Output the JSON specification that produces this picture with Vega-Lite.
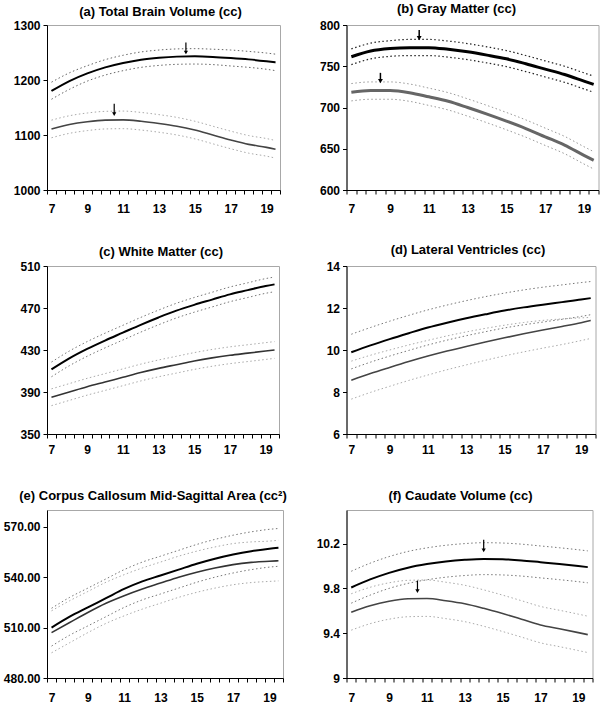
{
  "$schema": "https://vega.github.io/schema/vega-lite/v6.json",
  "background": "white",
  "padding": {"left": 2, "top": 2, "right": 0, "bottom": 0},
  "config": {
    "font": "Liberation Sans, Arial, sans-serif",
    "view": {"stroke": "#a8a8a8", "strokeWidth": 1},
    "axis": {"grid": false, "domainColor": "#000", "tickColor": "#000", "labelColor": "#000", "labelFontSize": 12, "labelFontWeight": "bold", "labelFont": "Liberation Sans, Arial, sans-serif", "tickSize": 4, "labelFlush": false, "labelOverlap": false, "title": null},
    "axisX": {"labelPadding": 9.5},
    "axisY": {"labelPadding": 3},
    "title": {"fontSize": 13, "fontWeight": "bold", "font": "Liberation Sans, Arial, sans-serif", "color": "#000", "anchor": "middle"}
  },
  "columns": 2,
  "align": "each",
  "bounds": "flush",
  "spacing": {"row": 76, "column": 63.5},
  "concat": [
    {
      "width": 233, "height": 165,
      "title": {"text": "(a) Total Brain Volume (cc)", "offset": 0, "dx": -3},
      "data": {"values": [
        {"age": 7, "M": 1180, "Mh": 1196, "Ml": 1165, "F": 1111, "Fh": 1127, "Fl": 1095},
        {"age": 8, "M": 1198, "Mh": 1213, "Ml": 1183, "F": 1119, "Fh": 1135, "Fl": 1103},
        {"age": 9, "M": 1212, "Mh": 1226, "Ml": 1198, "F": 1124, "Fh": 1140, "Fl": 1108},
        {"age": 10, "M": 1223, "Mh": 1237, "Ml": 1209, "F": 1127, "Fh": 1143, "Fl": 1111},
        {"age": 11, "M": 1231, "Mh": 1245, "Ml": 1217, "F": 1127.5, "Fh": 1143.5, "Fl": 1111.5},
        {"age": 12, "M": 1237, "Mh": 1251, "Ml": 1223, "F": 1125, "Fh": 1141, "Fl": 1109},
        {"age": 13, "M": 1240.5, "Mh": 1254.5, "Ml": 1226.5, "F": 1121, "Fh": 1137, "Fl": 1105},
        {"age": 14, "M": 1242.5, "Mh": 1256.5, "Ml": 1228.5, "F": 1116, "Fh": 1132, "Fl": 1100},
        {"age": 15, "M": 1243, "Mh": 1257, "Ml": 1229, "F": 1109, "Fh": 1125, "Fl": 1093},
        {"age": 16, "M": 1242, "Mh": 1256, "Ml": 1228, "F": 1100, "Fh": 1116, "Fl": 1084},
        {"age": 17, "M": 1240, "Mh": 1254.5, "Ml": 1225.5, "F": 1091, "Fh": 1107, "Fl": 1075},
        {"age": 18, "M": 1237.5, "Mh": 1252, "Ml": 1223, "F": 1083, "Fh": 1099, "Fl": 1067},
        {"age": 19, "M": 1234, "Mh": 1249, "Ml": 1219.5, "F": 1077.5, "Fh": 1093.5, "Fl": 1061.5},
        {"age": 19.5, "M": 1232, "Mh": 1247, "Ml": 1217, "F": 1074, "Fh": 1090, "Fl": 1058}
      ]},
      "encoding": {"x": {"field": "age", "type": "quantitative", "scale": {"domain": [6.75, 19.75], "nice": false, "zero": false}, "axis": {"values": [6.75,7.25,7.75,8.25,8.75,9.25,9.75,10.25,10.75,11.25,11.75,12.25,12.75,13.25,13.75,14.25,14.75,15.25,15.75,16.25,16.75,17.25,17.75,18.25,18.75,19.25,19.75], "labelExpr": "(datum.value + 0.25) % 2 == 1 ? '' + (datum.value + 0.25) : ''", "labelOffset": 4.48}}},
      "layer": [
        {"mark": {"type": "line", "interpolate": "monotone", "color": "#aaa", "strokeWidth": 1, "strokeDash": [1.5, 2.5]}, "encoding": {"y": {"field": "Fh", "type": "quantitative", "scale": {"domain": [1000, 1300], "nice": false, "zero": false}, "axis": {"values": [1000, 1100, 1200, 1300], "labelExpr": "'' + datum.value"}}}},
        {"mark": {"type": "line", "interpolate": "monotone", "color": "#aaa", "strokeWidth": 1, "strokeDash": [1.5, 2.5]}, "encoding": {"y": {"field": "Fl", "type": "quantitative"}}},
        {"mark": {"type": "line", "interpolate": "monotone", "color": "#666", "strokeWidth": 1, "strokeDash": [1.5, 2.5]}, "encoding": {"y": {"field": "Mh", "type": "quantitative"}}},
        {"mark": {"type": "line", "interpolate": "monotone", "color": "#666", "strokeWidth": 1, "strokeDash": [1.5, 2.5]}, "encoding": {"y": {"field": "Ml", "type": "quantitative"}}},
        {"mark": {"type": "line", "interpolate": "monotone", "color": "#444", "strokeWidth": 1.6}, "encoding": {"y": {"field": "F", "type": "quantitative"}}},
        {"mark": {"type": "line", "interpolate": "monotone", "color": "#000", "strokeWidth": 2}, "encoding": {"y": {"field": "M", "type": "quantitative"}}},
        {"data": {"values": [{"age": 14.5, "a1": 1268, "a2": 1250}, {"age": 10.5, "a1": 1157, "a2": 1138}]}, "mark": {"type": "rule", "color": "#000", "strokeWidth": 1.2}, "encoding": {"y": {"field": "a1", "type": "quantitative"}, "y2": {"field": "a2"}}},
        {"data": {"values": [{"age": 14.5, "a2": 1250}, {"age": 10.5, "a2": 1138}]}, "mark": {"type": "point", "shape": "triangle-down", "filled": true, "color": "#000", "size": 18, "opacity": 1}, "encoding": {"y": {"field": "a2", "type": "quantitative"}}}
      ]
    },
    {
      "width": 252, "height": 165,
      "title": {"text": "(b) Gray Matter (cc)", "offset": 2.7, "dx": -16},
      "data": {"values": [
        {"age": 7, "M": 761.5, "Mh": 771, "Ml": 752, "F": 718.5, "Fh": 729, "Fl": 708},
        {"age": 8, "M": 768.5, "Mh": 778, "Ml": 759, "F": 720.5, "Fh": 731, "Fl": 710},
        {"age": 9, "M": 771.5, "Mh": 781, "Ml": 762, "F": 720.5, "Fh": 731, "Fl": 710},
        {"age": 10, "M": 772.5, "Mh": 782.5, "Ml": 763, "F": 718, "Fh": 728.5, "Fl": 707.5},
        {"age": 11, "M": 772.5, "Mh": 782.5, "Ml": 763, "F": 713, "Fh": 723.5, "Fl": 702.5},
        {"age": 12, "M": 770.5, "Mh": 780.5, "Ml": 761, "F": 707.5, "Fh": 718, "Fl": 697},
        {"age": 13, "M": 767.5, "Mh": 777.5, "Ml": 758, "F": 700, "Fh": 710.5, "Fl": 689.5},
        {"age": 14, "M": 763.5, "Mh": 773.5, "Ml": 754, "F": 692, "Fh": 702.5, "Fl": 681.5},
        {"age": 15, "M": 759, "Mh": 769, "Ml": 749.5, "F": 683.5, "Fh": 694, "Fl": 673},
        {"age": 16, "M": 753, "Mh": 763, "Ml": 743.5, "F": 674.5, "Fh": 685, "Fl": 664},
        {"age": 17, "M": 746.5, "Mh": 756.5, "Ml": 737, "F": 664.5, "Fh": 675, "Fl": 654},
        {"age": 18, "M": 740, "Mh": 750, "Ml": 730.5, "F": 654.5, "Fh": 665, "Fl": 644},
        {"age": 19, "M": 732, "Mh": 742, "Ml": 722.5, "F": 642, "Fh": 652.5, "Fl": 631.5},
        {"age": 19.5, "M": 728, "Mh": 738, "Ml": 718.5, "F": 636, "Fh": 646.5, "Fl": 625.5}
      ]},
      "encoding": {"x": {"field": "age", "type": "quantitative", "scale": {"domain": [6.75, 19.75], "nice": false, "zero": false}, "axis": {"values": [6.75,7.25,7.75,8.25,8.75,9.25,9.75,10.25,10.75,11.25,11.75,12.25,12.75,13.25,13.75,14.25,14.75,15.25,15.75,16.25,16.75,17.25,17.75,18.25,18.75,19.25,19.75], "labelExpr": "(datum.value + 0.25) % 2 == 1 ? '' + (datum.value + 0.25) : ''", "labelOffset": 4.85}}},
      "layer": [
        {"mark": {"type": "line", "interpolate": "monotone", "color": "#999", "strokeWidth": 1, "strokeDash": [1.5, 2.5]}, "encoding": {"y": {"field": "Fh", "type": "quantitative", "scale": {"domain": [600, 800], "nice": false, "zero": false}, "axis": {"values": [600, 650, 700, 750, 800], "labelExpr": "'' + datum.value"}}}},
        {"mark": {"type": "line", "interpolate": "monotone", "color": "#999", "strokeWidth": 1, "strokeDash": [1.5, 2.5]}, "encoding": {"y": {"field": "Fl", "type": "quantitative"}}},
        {"mark": {"type": "line", "interpolate": "monotone", "color": "#222", "strokeWidth": 1.2, "strokeDash": [1.5, 2.5]}, "encoding": {"y": {"field": "Mh", "type": "quantitative"}}},
        {"mark": {"type": "line", "interpolate": "monotone", "color": "#222", "strokeWidth": 1.2, "strokeDash": [1.5, 2.5]}, "encoding": {"y": {"field": "Ml", "type": "quantitative"}}},
        {"mark": {"type": "line", "interpolate": "monotone", "color": "#666", "strokeWidth": 3}, "encoding": {"y": {"field": "F", "type": "quantitative"}}},
        {"mark": {"type": "line", "interpolate": "monotone", "color": "#000", "strokeWidth": 3}, "encoding": {"y": {"field": "M", "type": "quantitative"}}},
        {"data": {"values": [{"age": 10.5, "a1": 794, "a2": 784}, {"age": 8.5, "a1": 742, "a2": 732}]}, "mark": {"type": "rule", "color": "#000", "strokeWidth": 1.5}, "encoding": {"y": {"field": "a1", "type": "quantitative"}, "y2": {"field": "a2"}}},
        {"data": {"values": [{"age": 10.5, "a2": 784}, {"age": 8.5, "a2": 732}]}, "mark": {"type": "point", "shape": "triangle-down", "filled": true, "color": "#000", "size": 24, "opacity": 1}, "encoding": {"y": {"field": "a2", "type": "quantitative"}}}
      ]
    },
    {
      "width": 232, "height": 168,
      "title": {"text": "(c) White Matter (cc)", "offset": 1, "dx": -2},
      "data": {"values": [
        {"age": 7, "M": 411.5, "Mh": 418.5, "Ml": 404.5, "F": 385, "Fh": 393, "Fl": 377},
        {"age": 8, "M": 422, "Mh": 429, "Ml": 415, "F": 390, "Fh": 398, "Fl": 382},
        {"age": 9, "M": 431, "Mh": 438, "Ml": 424, "F": 395, "Fh": 403, "Fl": 387},
        {"age": 10, "M": 439, "Mh": 446, "Ml": 432, "F": 399.5, "Fh": 407.5, "Fl": 391.5},
        {"age": 11, "M": 446.5, "Mh": 453.5, "Ml": 439.5, "F": 404, "Fh": 412, "Fl": 396},
        {"age": 12, "M": 454, "Mh": 461, "Ml": 447, "F": 408.5, "Fh": 416.5, "Fl": 400.5},
        {"age": 13, "M": 461, "Mh": 468, "Ml": 454, "F": 412.5, "Fh": 420.5, "Fl": 404.5},
        {"age": 14, "M": 467.5, "Mh": 474.5, "Ml": 460.5, "F": 416, "Fh": 424, "Fl": 408},
        {"age": 15, "M": 473, "Mh": 480, "Ml": 466, "F": 419.5, "Fh": 427.5, "Fl": 411.5},
        {"age": 16, "M": 478, "Mh": 485, "Ml": 471, "F": 422.5, "Fh": 430.5, "Fl": 414.5},
        {"age": 17, "M": 483, "Mh": 490, "Ml": 476, "F": 425, "Fh": 433, "Fl": 417},
        {"age": 18, "M": 487, "Mh": 494, "Ml": 480, "F": 427, "Fh": 435, "Fl": 419},
        {"age": 19, "M": 491, "Mh": 498, "Ml": 484, "F": 429, "Fh": 437, "Fl": 421},
        {"age": 19.5, "M": 492.5, "Mh": 499.5, "Ml": 485.5, "F": 430, "Fh": 438, "Fl": 422}
      ]},
      "encoding": {"x": {"field": "age", "type": "quantitative", "scale": {"domain": [6.75, 19.75], "nice": false, "zero": false}, "axis": {"values": [6.75,7.25,7.75,8.25,8.75,9.25,9.75,10.25,10.75,11.25,11.75,12.25,12.75,13.25,13.75,14.25,14.75,15.25,15.75,16.25,16.75,17.25,17.75,18.25,18.75,19.25,19.75], "labelExpr": "(datum.value + 0.25) % 2 == 1 ? '' + (datum.value + 0.25) : ''", "labelOffset": 4.46, "labelPadding": 6.5}}},
      "layer": [
        {"mark": {"type": "line", "interpolate": "monotone", "color": "#aaa", "strokeWidth": 1, "strokeDash": [1.5, 2.5]}, "encoding": {"y": {"field": "Fh", "type": "quantitative", "scale": {"domain": [350, 510], "nice": false, "zero": false}, "axis": {"values": [350, 390, 430, 470, 510], "labelExpr": "'' + datum.value"}}}},
        {"mark": {"type": "line", "interpolate": "monotone", "color": "#aaa", "strokeWidth": 1, "strokeDash": [1.5, 2.5]}, "encoding": {"y": {"field": "Fl", "type": "quantitative"}}},
        {"mark": {"type": "line", "interpolate": "monotone", "color": "#777", "strokeWidth": 1, "strokeDash": [1.5, 2.5]}, "encoding": {"y": {"field": "Mh", "type": "quantitative"}}},
        {"mark": {"type": "line", "interpolate": "monotone", "color": "#777", "strokeWidth": 1, "strokeDash": [1.5, 2.5]}, "encoding": {"y": {"field": "Ml", "type": "quantitative"}}},
        {"mark": {"type": "line", "interpolate": "monotone", "color": "#333", "strokeWidth": 1.6}, "encoding": {"y": {"field": "F", "type": "quantitative"}}},
        {"mark": {"type": "line", "interpolate": "monotone", "color": "#000", "strokeWidth": 2}, "encoding": {"y": {"field": "M", "type": "quantitative"}}}
      ]
    },
    {
      "width": 249, "height": 168,
      "title": {"text": "(d) Lateral Ventricles (cc)", "offset": 3, "dx": -3},
      "data": {"values": [
        {"age": 7, "M": 9.89, "Mh": 10.75, "Ml": 9.1, "F": 8.56, "Fh": 9.47, "Fl": 7.66},
        {"age": 8, "M": 10.22, "Mh": 11.07, "Ml": 9.42, "F": 8.88, "Fh": 9.75, "Fl": 7.98},
        {"age": 9, "M": 10.52, "Mh": 11.37, "Ml": 9.71, "F": 9.17, "Fh": 10.0, "Fl": 8.27},
        {"age": 10, "M": 10.8, "Mh": 11.65, "Ml": 9.98, "F": 9.45, "Fh": 10.24, "Fl": 8.55},
        {"age": 11, "M": 11.07, "Mh": 11.91, "Ml": 10.24, "F": 9.71, "Fh": 10.46, "Fl": 8.81},
        {"age": 12, "M": 11.3, "Mh": 12.14, "Ml": 10.47, "F": 9.95, "Fh": 10.67, "Fl": 9.06},
        {"age": 13, "M": 11.51, "Mh": 12.35, "Ml": 10.68, "F": 10.17, "Fh": 10.86, "Fl": 9.29},
        {"age": 14, "M": 11.7, "Mh": 12.54, "Ml": 10.87, "F": 10.38, "Fh": 11.03, "Fl": 9.51},
        {"age": 15, "M": 11.88, "Mh": 12.71, "Ml": 11.05, "F": 10.58, "Fh": 11.18, "Fl": 9.72},
        {"age": 16, "M": 12.03, "Mh": 12.86, "Ml": 11.2, "F": 10.77, "Fh": 11.31, "Fl": 9.91},
        {"age": 17, "M": 12.16, "Mh": 12.99, "Ml": 11.33, "F": 10.95, "Fh": 11.41, "Fl": 10.09},
        {"age": 18, "M": 12.28, "Mh": 13.1, "Ml": 11.46, "F": 11.12, "Fh": 11.48, "Fl": 10.26},
        {"age": 19, "M": 12.4, "Mh": 13.21, "Ml": 11.6, "F": 11.3, "Fh": 11.53, "Fl": 10.45},
        {"age": 19.5, "M": 12.47, "Mh": 13.26, "Ml": 11.68, "F": 11.41, "Fh": 11.55, "Fl": 10.55}
      ]},
      "encoding": {"x": {"field": "age", "type": "quantitative", "scale": {"domain": [6.75, 19.75], "nice": false, "zero": false}, "axis": {"values": [6.75,7.25,7.75,8.25,8.75,9.25,9.75,10.25,10.75,11.25,11.75,12.25,12.75,13.25,13.75,14.25,14.75,15.25,15.75,16.25,16.75,17.25,17.75,18.25,18.75,19.25,19.75], "labelExpr": "(datum.value + 0.25) % 2 == 1 ? '' + (datum.value + 0.25) : ''", "labelOffset": 4.79, "labelPadding": 6.5}}},
      "layer": [
        {"mark": {"type": "line", "interpolate": "monotone", "color": "#aaa", "strokeWidth": 1, "strokeDash": [1.5, 2.5]}, "encoding": {"y": {"field": "Fh", "type": "quantitative", "scale": {"domain": [6, 14], "nice": false, "zero": false}, "axis": {"values": [6, 8, 10, 12, 14], "labelExpr": "'' + datum.value"}}}},
        {"mark": {"type": "line", "interpolate": "monotone", "color": "#aaa", "strokeWidth": 1, "strokeDash": [1.5, 2.5]}, "encoding": {"y": {"field": "Fl", "type": "quantitative"}}},
        {"mark": {"type": "line", "interpolate": "monotone", "color": "#777", "strokeWidth": 1, "strokeDash": [1.5, 2.5]}, "encoding": {"y": {"field": "Mh", "type": "quantitative"}}},
        {"mark": {"type": "line", "interpolate": "monotone", "color": "#777", "strokeWidth": 1, "strokeDash": [1.5, 2.5]}, "encoding": {"y": {"field": "Ml", "type": "quantitative"}}},
        {"mark": {"type": "line", "interpolate": "monotone", "color": "#444", "strokeWidth": 1.6}, "encoding": {"y": {"field": "F", "type": "quantitative"}}},
        {"mark": {"type": "line", "interpolate": "monotone", "color": "#000", "strokeWidth": 2}, "encoding": {"y": {"field": "M", "type": "quantitative"}}}
      ]
    },
    {
      "width": 236, "height": 168,
      "title": {"text": "(e) Corpus Callosum Mid-Sagittal Area (cc²)", "offset": 7.3, "dx": -12},
      "data": {"values": [
        {"age": 7, "M": 510, "Mh": 521.5, "Ml": 499, "F": 507, "Fh": 520, "Fl": 495},
        {"age": 8, "M": 516.5, "Mh": 528, "Ml": 505.5, "F": 513, "Fh": 526, "Fl": 501},
        {"age": 9, "M": 522, "Mh": 533.5, "Ml": 511, "F": 519, "Fh": 531.5, "Fl": 507},
        {"age": 10, "M": 527.5, "Mh": 539, "Ml": 516.5, "F": 524.5, "Fh": 537, "Fl": 512.5},
        {"age": 11, "M": 533, "Mh": 544.5, "Ml": 522, "F": 529, "Fh": 541.5, "Fl": 517},
        {"age": 12, "M": 537.5, "Mh": 549, "Ml": 526.5, "F": 533, "Fh": 545.5, "Fl": 521},
        {"age": 13, "M": 541, "Mh": 552.5, "Ml": 530, "F": 536.5, "Fh": 549, "Fl": 524.5},
        {"age": 14, "M": 544.5, "Mh": 556, "Ml": 533.5, "F": 540, "Fh": 552.5, "Fl": 528},
        {"age": 15, "M": 548, "Mh": 559.5, "Ml": 537, "F": 543, "Fh": 555.5, "Fl": 531},
        {"age": 16, "M": 551, "Mh": 562.5, "Ml": 540, "F": 545.5, "Fh": 558, "Fl": 533.5},
        {"age": 17, "M": 553.5, "Mh": 565, "Ml": 542.5, "F": 547.5, "Fh": 560, "Fl": 535.5},
        {"age": 18, "M": 555.5, "Mh": 567, "Ml": 544.5, "F": 548.8, "Fh": 561, "Fl": 536.8},
        {"age": 19, "M": 557, "Mh": 568.5, "Ml": 546, "F": 549.5, "Fh": 561.5, "Fl": 537.5},
        {"age": 19.5, "M": 557.5, "Mh": 569, "Ml": 546.5, "F": 549.8, "Fh": 562, "Fl": 537.8}
      ]},
      "encoding": {"x": {"field": "age", "type": "quantitative", "scale": {"domain": [6.75, 19.75], "nice": false, "zero": false}, "axis": {"values": [6.75,7.25,7.75,8.25,8.75,9.25,9.75,10.25,10.75,11.25,11.75,12.25,12.75,13.25,13.75,14.25,14.75,15.25,15.75,16.25,16.75,17.25,17.75,18.25,18.75,19.25,19.75], "labelExpr": "(datum.value + 0.25) % 2 == 1 ? '' + (datum.value + 0.25) : ''", "labelOffset": 4.54, "labelPadding": 10.5}}},
      "layer": [
        {"mark": {"type": "line", "interpolate": "monotone", "color": "#aaa", "strokeWidth": 1, "strokeDash": [1.5, 2.5]}, "encoding": {"y": {"field": "Fh", "type": "quantitative", "scale": {"domain": [480, 580], "nice": false, "zero": false}, "axis": {"values": [480, 510, 540, 570], "labelExpr": "format(datum.value, '.2f')"}}}},
        {"mark": {"type": "line", "interpolate": "monotone", "color": "#aaa", "strokeWidth": 1, "strokeDash": [1.5, 2.5]}, "encoding": {"y": {"field": "Fl", "type": "quantitative"}}},
        {"mark": {"type": "line", "interpolate": "monotone", "color": "#777", "strokeWidth": 1, "strokeDash": [1.5, 2.5]}, "encoding": {"y": {"field": "Mh", "type": "quantitative"}}},
        {"mark": {"type": "line", "interpolate": "monotone", "color": "#777", "strokeWidth": 1, "strokeDash": [1.5, 2.5]}, "encoding": {"y": {"field": "Ml", "type": "quantitative"}}},
        {"mark": {"type": "line", "interpolate": "monotone", "color": "#333", "strokeWidth": 1.6}, "encoding": {"y": {"field": "F", "type": "quantitative"}}},
        {"mark": {"type": "line", "interpolate": "monotone", "color": "#000", "strokeWidth": 2}, "encoding": {"y": {"field": "M", "type": "quantitative"}}}
      ]
    },
    {
      "width": 246, "height": 168,
      "title": {"text": "(f) Caudate Volume (cc)", "offset": 7.3, "dx": -9},
      "data": {"values": [
        {"age": 7, "M": 9.808, "Mh": 9.953, "Ml": 9.668, "F": 9.587, "Fh": 9.752, "Fl": 9.427},
        {"age": 8, "M": 9.88, "Mh": 10.025, "Ml": 9.74, "F": 9.645, "Fh": 9.81, "Fl": 9.485},
        {"age": 9, "M": 9.939, "Mh": 10.084, "Ml": 9.8, "F": 9.685, "Fh": 9.85, "Fl": 9.525},
        {"age": 10, "M": 9.985, "Mh": 10.13, "Ml": 9.845, "F": 9.707, "Fh": 9.872, "Fl": 9.547},
        {"age": 11, "M": 10.017, "Mh": 10.162, "Ml": 9.877, "F": 9.71, "Fh": 9.875, "Fl": 9.55},
        {"age": 12, "M": 10.04, "Mh": 10.185, "Ml": 9.9, "F": 9.69, "Fh": 9.855, "Fl": 9.53},
        {"age": 13, "M": 10.055, "Mh": 10.2, "Ml": 9.915, "F": 9.663, "Fh": 9.828, "Fl": 9.503},
        {"age": 14, "M": 10.063, "Mh": 10.208, "Ml": 9.923, "F": 9.622, "Fh": 9.787, "Fl": 9.462},
        {"age": 15, "M": 10.06, "Mh": 10.205, "Ml": 9.92, "F": 9.575, "Fh": 9.74, "Fl": 9.415},
        {"age": 16, "M": 10.05, "Mh": 10.195, "Ml": 9.91, "F": 9.525, "Fh": 9.69, "Fl": 9.365},
        {"age": 17, "M": 10.034, "Mh": 10.179, "Ml": 9.894, "F": 9.474, "Fh": 9.639, "Fl": 9.314},
        {"age": 18, "M": 10.018, "Mh": 10.163, "Ml": 9.878, "F": 9.44, "Fh": 9.605, "Fl": 9.28},
        {"age": 19, "M": 10.0, "Mh": 10.145, "Ml": 9.86, "F": 9.405, "Fh": 9.57, "Fl": 9.245},
        {"age": 19.5, "M": 9.99, "Mh": 10.135, "Ml": 9.85, "F": 9.387, "Fh": 9.552, "Fl": 9.227}
      ]},
      "encoding": {"x": {"field": "age", "type": "quantitative", "scale": {"domain": [6.75, 19.75], "nice": false, "zero": false}, "axis": {"values": [6.75,7.25,7.75,8.25,8.75,9.25,9.75,10.25,10.75,11.25,11.75,12.25,12.75,13.25,13.75,14.25,14.75,15.25,15.75,16.25,16.75,17.25,17.75,18.25,18.75,19.25,19.75], "labelExpr": "(datum.value + 0.25) % 2 == 1 ? '' + (datum.value + 0.25) : ''", "labelOffset": 4.73, "labelPadding": 10.5}}},
      "layer": [
        {"mark": {"type": "line", "interpolate": "monotone", "color": "#aaa", "strokeWidth": 1, "strokeDash": [1.5, 2.5]}, "encoding": {"y": {"field": "Fh", "type": "quantitative", "scale": {"domain": [9, 10.5], "nice": false, "zero": false}, "axis": {"values": [9, 9.4, 9.8, 10.2], "labelExpr": "'' + datum.value"}}}},
        {"mark": {"type": "line", "interpolate": "monotone", "color": "#aaa", "strokeWidth": 1, "strokeDash": [1.5, 2.5]}, "encoding": {"y": {"field": "Fl", "type": "quantitative"}}},
        {"mark": {"type": "line", "interpolate": "monotone", "color": "#777", "strokeWidth": 1, "strokeDash": [1.5, 2.5]}, "encoding": {"y": {"field": "Mh", "type": "quantitative"}}},
        {"mark": {"type": "line", "interpolate": "monotone", "color": "#777", "strokeWidth": 1, "strokeDash": [1.5, 2.5]}, "encoding": {"y": {"field": "Ml", "type": "quantitative"}}},
        {"mark": {"type": "line", "interpolate": "monotone", "color": "#444", "strokeWidth": 1.6}, "encoding": {"y": {"field": "F", "type": "quantitative"}}},
        {"mark": {"type": "line", "interpolate": "monotone", "color": "#000", "strokeWidth": 2}, "encoding": {"y": {"field": "M", "type": "quantitative"}}},
        {"data": {"values": [{"age": 14, "a1": 10.235, "a2": 10.14}, {"age": 10.5, "a1": 9.87, "a2": 9.775}]}, "mark": {"type": "rule", "color": "#000", "strokeWidth": 1.2}, "encoding": {"y": {"field": "a1", "type": "quantitative"}, "y2": {"field": "a2"}}},
        {"data": {"values": [{"age": 14, "a2": 10.14}, {"age": 10.5, "a2": 9.775}]}, "mark": {"type": "point", "shape": "triangle-down", "filled": true, "color": "#000", "size": 18, "opacity": 1}, "encoding": {"y": {"field": "a2", "type": "quantitative"}}}
      ]
    }
  ]
}
